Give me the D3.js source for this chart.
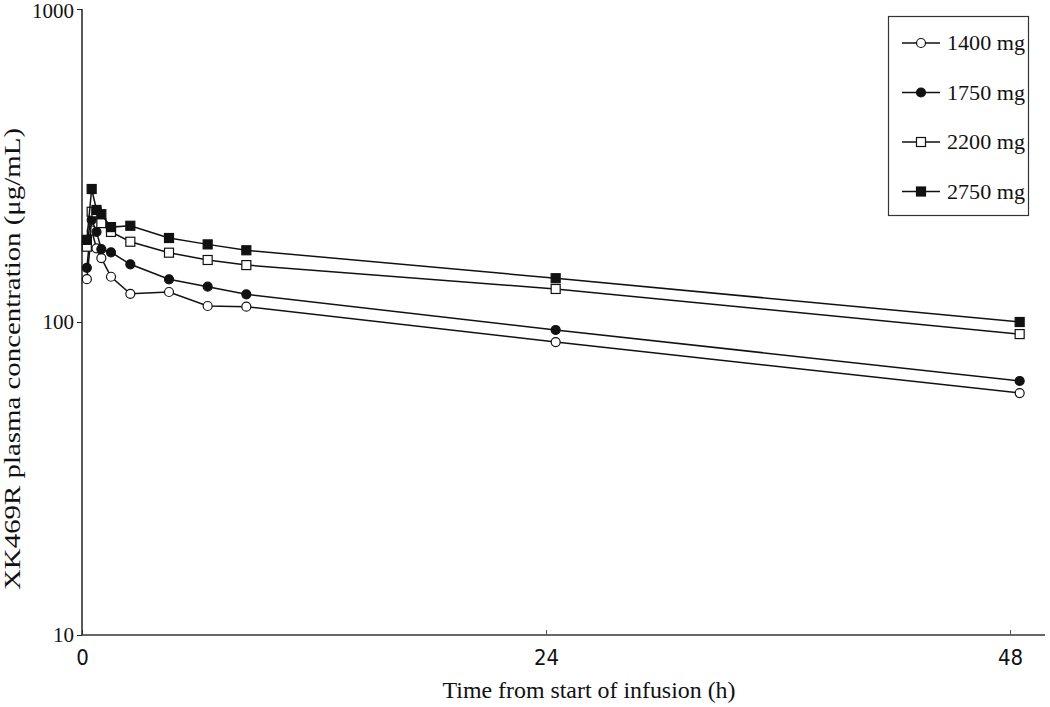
<!DOCTYPE html>
<html>
<head>
<meta charset="utf-8">
<script src="https://cdn.jsdelivr.net/npm/d3@7"></script>
<style>
  body { margin: 0; background: #fff; }
  svg { display: block; }
  .serif { font-family: "Liberation Serif", "DejaVu Serif", serif; }
  .narrow { font-family: "Liberation Sans Narrow", "DejaVu Sans Condensed", sans-serif; }
</style>
</head>
<body>
<div id="chart"></div>
<script>
// Время (ч) и концентрации по дозам
const times = [0.25, 0.5, 0.75, 1, 1.5, 2.5, 4.5, 6.5, 8.5, 24.5, 48.5]
const dose1400 = [137, 196, 172, 160, 139.5, 123, 124.7, 112.5, 111.9, 86.3, 59.3]
const dose1750 = [149, 212, 194, 171, 167, 152.9, 136.9, 129.7, 122.6, 94.3, 64.8]
const dose2200 = [174, 225, 224, 207, 194, 180.5, 166.5, 157.8, 152, 127.5, 91.5]
const dose2750 = [183, 266, 228, 221, 201, 203, 185.5, 177, 169.5, 138, 100]
const seriesNames = ['1400 mg', '1750 mg', '2200 mg', '2750 mg']
const xTicks = [0, 24, 48]
const yTicks = [10, 100, 1000]

const series = [
  {name: seriesNames[0], values: dose1400, shape: 'circle', fill: '#fff'},
  {name: seriesNames[1], values: dose1750, shape: 'circle', fill: '#111'},
  {name: seriesNames[2], values: dose2200, shape: 'square', fill: '#fff'},
  {name: seriesNames[3], values: dose2750, shape: 'square', fill: '#111'}
]

const W = 1050, H = 707
const svg = d3.select('#chart').append('svg')
  .attr('width', W).attr('height', H)

const x = d3.scaleLinear().domain([0, 48]).range([82, 1010])
const y = d3.scaleLog().domain([10, 1000]).range([635, 9])

// оси
svg.append('line')
  .attr('x1', 82).attr('x2', 1045)
  .attr('y1', y(10)).attr('y2', y(10))
  .attr('stroke', '#666').attr('stroke-width', 2)

const xAxis = svg.append('g')
  .attr('transform', `translate(0,${y(10)})`)
  .call(d3.axisBottom(x).tickValues(xTicks).tickSize(-5).tickPadding(14))
xAxis.select('.domain').remove()
xAxis.selectAll('line').attr('stroke', '#555')
xAxis.selectAll('text').attr('class', 'narrow')
  .attr('font-size', 22).attr('fill', '#111')

const yAxis = svg.append('g')
  .attr('transform', 'translate(82,0)')
  .call(d3.axisLeft(y).tickValues(yTicks).tickFormat(d3.format('d')).tickSize(5).tickPadding(3))
yAxis.select('.domain').attr('stroke', '#222').attr('stroke-width', 1.5)
  .attr('d', `M0,${y(1000)}V${y(10)}`)
yAxis.selectAll('line').attr('stroke', '#222')
yAxis.selectAll('text').attr('class', 'serif')
  .attr('font-size', 21).attr('fill', '#111')
  .attr('y', d => d === 1000 ? 2 : 0)

// подписи осей
svg.append('text').attr('class', 'serif')
  .attr('x', 589).attr('y', 698).attr('text-anchor', 'middle')
  .attr('font-size', 24).attr('fill', '#111')
  .attr('textLength', 293).attr('lengthAdjust', 'spacingAndGlyphs')
  .text('Time from start of infusion (h)')

svg.append('text').attr('class', 'serif')
  .attr('transform', 'translate(20,359) rotate(-90)')
  .attr('text-anchor', 'middle')
  .attr('font-size', 24).attr('fill', '#111')
  .attr('textLength', 462).attr('lengthAdjust', 'spacingAndGlyphs')
  .text('XK469R plasma concentration (μg/mL)')

const line = d3.line()
  .x((d, i) => x(times[i]))
  .y(d => y(d))

function marker(g, s, cx, cy){
  if(s.shape === 'circle'){
    g.append('circle').attr('cx', cx).attr('cy', cy).attr('r', 4.5)
      .attr('fill', s.fill).attr('stroke', '#111').attr('stroke-width', 1.2)
  } else {
    g.append('rect').attr('x', cx - 4.5).attr('y', cy - 4.5)
      .attr('width', 9).attr('height', 9)
      .attr('fill', s.fill).attr('stroke', '#111').attr('stroke-width', 1.2)
  }
}

series.forEach(s => {
  const g = svg.append('g')
  g.append('path').datum(s.values)
    .attr('d', line).attr('fill', 'none')
    .attr('stroke', '#111').attr('stroke-width', 1.5)
  s.values.forEach((v, i) => marker(g, s, x(times[i]), y(v)))
})

// легенда
svg.append('rect')
  .attr('x', 888.5).attr('y', 16.5).attr('width', 140).attr('height', 199)
  .attr('fill', '#fff').attr('stroke', '#333').attr('stroke-width', 1.2)

series.forEach((s, i) => {
  const ly = 43 + i * 49.5
  const g = svg.append('g')
  g.append('line').attr('x1', 902).attr('x2', 940)
    .attr('y1', ly).attr('y2', ly).attr('stroke', '#111').attr('stroke-width', 1.5)
  marker(g, s, 921, ly)
  g.append('text').attr('class', 'serif')
    .attr('x', 947).attr('y', ly + 7)
    .attr('font-size', 22).attr('fill', '#111')
    .attr('textLength', 78).attr('lengthAdjust', 'spacingAndGlyphs')
    .text(s.name)
})
</script>
</body>
</html>
